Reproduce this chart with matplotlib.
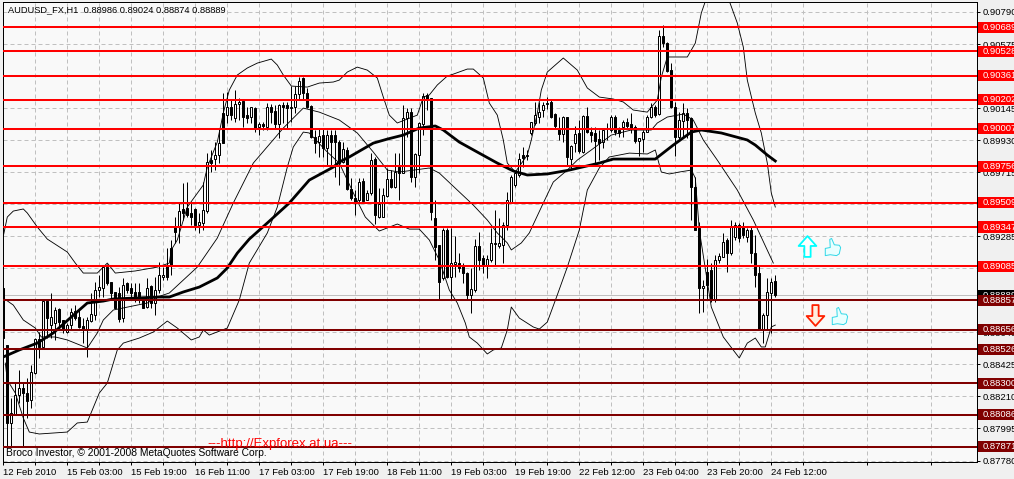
import numpy as np
import matplotlib
matplotlib.use("Agg")
import matplotlib.pyplot as plt
from matplotlib.patches import Rectangle
from matplotlib.path import Path

plt.rcParams["font.family"] = ["Liberation Sans", "DejaVu Sans"]

# hourly candles, prices in 1/100000
opens = [88938, 88555, 88032, 88092, 88220, 88267, 88233, 88186, 88367, 88595,
         88542, 88850, 88689, 88703, 88797, 88723, 88642, 88689, 88783, 88743,
         88683, 88656, 88716, 88756, 88924, 88938, 89078, 88978, 88911, 88904,
         88736, 88971, 88938, 88911, 88911, 88870, 88810, 88951, 88837, 88924,
         89011, 89092, 89206, 89347, 89347, 89468, 89474, 89441, 89468, 89360,
         89374, 89454, 89796, 89803, 89830, 90112, 90098, 90152, 90078, 90172,
         90192, 90098, 90085, 90145, 90018, 90038, 90018, 90152, 90125, 90038,
         90166, 90166, 90145, 90152, 90239, 90347, 90246, 90159, 89951, 89917,
         89964, 89877, 89964, 89964, 89917, 89783, 89864, 89602, 89541, 89528,
         89655, 89528, 89575, 89803, 89414, 89414, 89555, 89669, 89615, 89749,
         89709, 90078, 90118, 89682, 89830, 90038, 90233, 90212, 89407, 89226,
         89005, 89327, 89011, 89099, 89105, 89085, 89038, 88891, 88924, 89219,
         89139, 89092, 89125, 89233, 89219, 89226, 89360, 89515, 89629, 89696,
         89830, 89823, 89978, 90045, 90085, 90132, 90172, 90186, 90105, 90004,
         89971, 90085, 89803, 89910, 89978, 89850, 90092, 89984, 89978, 89937,
         89917, 90004, 89998, 90085, 89998, 90018, 90051, 90038, 90018, 89924,
         89937, 89984, 90085, 90152, 90105, 90628, 90581, 90400, 90152, 89951,
         90058, 90112, 90078, 89615, 89340, 88938, 89045, 89058, 88857, 89125,
         89145, 89260, 89172, 89280, 89360, 89347, 89280, 89327, 89172, 89038,
         88662, 88756, 88904, 88986]
highs = [89078, 88555, 88199, 88300, 88387, 88300, 88334, 88421, 88602, 88642,
         88850, 88857, 88904, 88810, 88803, 88723, 88703, 88803, 88823, 88790,
         88736, 88743, 88904, 88978, 89025, 89092, 89099, 88978, 88911, 88944,
         89005, 88978, 88971, 88971, 88971, 88877, 89005, 88958, 89011, 89112,
         89078, 89206, 89260, 89414, 89515, 89642, 89649, 89508, 89474, 89441,
         89649, 89843, 89864, 89917, 90011, 90246, 90253, 90199, 90266, 90212,
         90199, 90152, 90152, 90152, 90051, 90051, 90179, 90172, 90166, 90172,
         90186, 90186, 90293, 90293, 90353, 90353, 90280, 90166, 89998, 90011,
         90011, 89998, 89998, 89998, 89931, 89917, 89884, 89676, 89595, 89676,
         89676, 89595, 89843, 89817, 89609, 89609, 89743, 89729, 89843, 89843,
         90166, 90145, 90145, 89843, 90051, 90246, 90246, 90212, 89528, 89226,
         89340, 89340, 89340, 89286, 89172, 89105, 89045, 89072, 89266, 89313,
         89159, 89159, 89340, 89461, 89407, 89380, 89582, 89696, 89716, 89843,
         89884, 89864, 90051, 90186, 90186, 90186, 90219, 90199, 90112, 90085,
         90092, 90085, 89897, 90025, 90065, 90098, 90152, 90018, 90018, 89998,
         90011, 90045, 90098, 90098, 90018, 90065, 90078, 90112, 90031, 89944,
         89998, 90098, 90179, 90166, 90669, 90702, 90588, 90447, 90186, 90118,
         90179, 90145, 90085, 89682, 89380, 88991, 89132, 89105, 89159, 89172,
         89307, 89273, 89394, 89380, 89374, 89380, 89340, 89347, 89293, 89092,
         88770, 89005, 89005, 89024]
lows = [88589, 87871, 87871, 88092, 88166, 87871, 88065, 88132, 88360, 88468,
        88542, 88602, 88602, 88589, 88656, 88636, 88636, 88656, 88723, 88669,
        88568, 88475, 88709, 88723, 88877, 88877, 88958, 88870, 88803, 88709,
        88709, 88904, 88870, 88844, 88837, 88803, 88803, 88803, 88756, 88904,
        88991, 88991, 89025, 89240, 89240, 89394, 89414, 89360, 89327, 89307,
        89327, 89441, 89716, 89729, 89776, 89910, 90045, 90065, 90051, 90065,
        90018, 90045, 90045, 89984, 89964, 89998, 89998, 90045, 90011, 89944,
        90045, 90011, 90051, 90112, 90199, 90199, 90145, 89944, 89843, 89817,
        89817, 89763, 89749, 89682, 89629, 89776, 89595, 89528, 89427, 89515,
        89515, 89528, 89562, 89367, 89407, 89414, 89548, 89609, 89609, 89528,
        89709, 89951, 89649, 89615, 89709, 89964, 90132, 89394, 89125, 88864,
        88991, 89005, 88864, 89011, 89045, 88971, 88864, 88770, 88911, 89058,
        89038, 89005, 89112, 89092, 89206, 89105, 89327, 89508, 89615, 89682,
        89749, 89796, 89964, 90031, 90045, 90085, 90139, 90078, 90011, 89931,
        89917, 89763, 89729, 89850, 89843, 89843, 89978, 89917, 89776, 89796,
        89877, 89931, 89984, 89964, 89951, 89951, 90011, 89978, 89910, 89823,
        89850, 89984, 90078, 90085, 90098, 90555, 90387, 90145, 89823, 89931,
        89944, 89944, 89394, 89327, 88770, 88776, 88857, 88844, 88844, 89105,
        89145, 89045, 89159, 89260, 89246, 89273, 89246, 89105, 88944, 88656,
        88568, 88656, 88636, 88874]
closes = [88602, 88032, 88099, 88220, 88267, 88233, 88179, 88374, 88595, 88542,
          88850, 88736, 88743, 88790, 88709, 88662, 88689, 88776, 88736, 88676,
          88656, 88723, 88763, 88924, 88944, 89078, 88971, 88904, 88803, 88729,
          88958, 88924, 88904, 88877, 88857, 88803, 88938, 88837, 88924, 89025,
          89025, 89011, 89092, 89313, 89454, 89441, 89427, 89414, 89360, 89380,
          89461, 89783, 89776, 89830, 89910, 89910, 90152, 90098, 90172, 90186,
          90085, 90078, 90152, 90011, 90038, 90025, 90152, 90118, 90038, 90166,
          90152, 90145, 90152, 90239, 90327, 90246, 90152, 89951, 89910, 89957,
          89877, 89964, 89917, 89917, 89776, 89870, 89602, 89541, 89515, 89649,
          89521, 89575, 89796, 89427, 89501, 89562, 89669, 89615, 89716, 89709,
          90078, 90118, 89682, 89837, 90045, 90226, 90206, 89447, 89213, 88978,
          89327, 89011, 89105, 89112, 89072, 89038, 88891, 88931, 89219, 89125,
          89092, 89132, 89240, 89240, 89240, 89360, 89528, 89682, 89709, 89803,
          89810, 89830, 90051, 90098, 90118, 90166, 90179, 90085, 90025, 89971,
          90085, 89817, 89890, 89971, 89857, 90092, 89984, 89964, 89924, 89910,
          89998, 90011, 90085, 89984, 89978, 90051, 90025, 90011, 89924, 89944,
          89984, 90085, 90152, 90098, 90628, 90581, 90394, 90152, 89951, 90065,
          90112, 90065, 89615, 89327, 88938, 88951, 88958, 88857, 89125, 89152,
          89246, 89172, 89347, 89360, 89273, 89293, 89327, 89172, 89025, 88656,
          88756, 88911, 88978, 88889]

# indicator lines: bar number, price in 1/100000
upper_bars = [0, 1, 2.5, 5, 6, 8.5, 11, 16, 18, 20, 23.5, 26, 28, 33, 38.5, 41.5, 42, 43.5, 46, 50,
              51, 53.5, 55, 56.5, 58.5, 61, 63.5, 67, 68.5, 70, 72, 76, 79, 82.5, 84, 86, 88.5, 91, 93.5, 95,
              96.5, 98.5, 103.5, 105, 106.5, 108.5, 111, 112.5, 116, 117.5, 120, 121.5, 123.5, 125, 126, 128,
              131, 132, 133.5, 134.5, 136, 140, 143.5, 146, 149, 152.5, 155, 157.5, 161, 163.5, 164.5, 166,
              171, 173, 174.5, 176, 181, 183.5, 185, 186, 188, 189.5, 191, 192, 193]
upper_vals = [89286, 89414, 89454, 89468, 89441, 89347, 89266, 89179, 89105, 89038, 89038, 89105, 89038, 89052,
              89078, 89105, 89193, 89260, 89481, 89629,
              89749, 89917, 90112, 90266, 90367, 90414, 90447, 90474, 90434, 90367, 90293, 90286, 90313, 90320,
              90333, 90387, 90420, 90400, 90347, 90219,
              90098, 90045, 90098, 90219, 90233, 90300, 90360, 90373, 90407, 90407, 90347, 90179, 90098, 89931,
              89776, 89716,
              89830, 89931, 90112, 90266, 90387, 90481, 90400, 90280, 90219, 90206, 90186, 90132, 90118, 90199,
              90353, 90488,
              90488, 90581, 90783, 90900, 90900, 90716, 90555, 90333, 90112, 89978, 89776, 89575, 89481]
middle_bars = [0, 2.5, 5, 8, 9.5, 13, 16, 21, 23.5, 25, 27.5, 36, 38.5, 41.5, 48.5, 53.5, 57.5, 62.5, 70, 75,
               79, 84, 88.5, 92.5, 96, 99, 106.5, 109, 113.5, 117.5, 121, 123.5, 126, 127, 129.5, 131.5, 135,
               137.5, 141, 143.5, 147, 152, 157, 162, 163.5, 166, 170, 172.5, 175, 178.5, 183.5, 187.5, 192.5]
middle_vals = [88870, 88823, 88723, 88669, 88609, 88609, 88589, 88535, 88636, 88723, 88790, 88837, 88877, 88904,
               89078, 89273, 89508, 89776, 90011, 90145,
               90118, 90065, 89978, 89850, 89729, 89716, 89743, 89709, 89595, 89494, 89394, 89307, 89240, 89193,
               89240, 89307, 89508,
               89649, 89729, 89796, 89864, 89964, 89998, 89998, 90045, 90085, 90105, 90065, 89931, 89796, 89595,
               89394, 89105]
lower_bars = [0.5, 1, 3, 5, 6.5, 9, 16, 18.5, 21, 24, 26, 28.5, 30, 34, 37.5, 41, 43.5, 47, 49, 50, 51.5, 56, 59,
              61.5, 66, 68.5, 71, 72.5, 75, 76.5, 81, 84, 88, 90.5, 94, 98.5, 101.5, 104, 106.5, 109, 111.5,
              113.5, 115.5, 116.5, 118.5, 121, 122.5, 124.5, 126, 127, 129, 132.5, 134, 136, 138.5, 141, 144,
              146, 149, 151.5, 156.5, 161, 163, 164.5, 166.5, 169, 172, 173, 174, 177, 180, 184, 186, 188,
              189.5, 190.5, 192, 193]
lower_vals = [88434, 88320, 88233, 88065, 87971, 87958, 87971, 88032, 88038, 88233, 88300, 88522, 88568, 88602,
              88642, 88716, 88669, 88589, 88609, 88656, 88622, 88669, 88857,
              89105, 89307, 89481, 89749, 89884, 89984, 89978, 89850, 89776, 89548, 89414, 89320, 89367, 89333,
              89333, 89260, 89125, 88924,
              88837, 88703, 88609, 88568, 88495, 88522, 88535, 88656, 88810, 88736, 88676, 88662, 88709, 88891,
              89078, 89327,
              89595, 89743, 89817, 89843, 89837, 89864, 89716, 89703, 89716, 89729, 89676, 89327, 88810, 88609,
              88468, 88568, 88602,
              88542, 88542, 88676, 88689]
ma_bars = [0, 4, 8.5, 12.5, 17, 21, 25, 27.5, 39, 41.5, 45, 49, 53.5, 56, 58.5, 61.5, 66, 71.5, 76.5, 82.5, 84,
           86.5, 92.5, 96, 100, 104, 108, 110, 114, 118.5, 123.5, 127.5, 131, 136, 141.5, 149, 152.5, 163, 167.5,
           172, 174.5, 179.5, 186, 188, 191, 193]
ma_vals = [88475, 88522, 88568, 88636, 88743, 88837, 88850, 88864, 88877, 88877, 88911, 88944, 89005, 89072, 89172,
           89266, 89374, 89508, 89662, 89749, 89783,
           89817, 89910, 89937, 89964, 90011, 90025, 89998, 89917, 89850, 89776, 89723, 89696, 89703, 89729, 89776,
           89803, 89803, 89897,
           89984, 89998, 89978, 89931, 89897, 89830, 89790]

res_levels = [0.90689, 0.90528, 0.90361, 0.90202, 0.90007, 0.89756, 0.89509, 0.89347, 0.89085]
sup_levels = [0.88857, 0.88656, 0.88526, 0.88300, 0.88086, 0.87871]
last_price = 0.88889
price_ticks = [0.90790, 0.90575, 0.90360, 0.90145, 0.89930, 0.89715, 0.89500, 0.89285,
               0.89070, 0.88855, 0.88640, 0.88425, 0.88210, 0.87995, 0.87780]
time_labels = ["12 Feb 2010", "15 Feb 03:00", "15 Feb 19:00", "16 Feb 11:00", "17 Feb 03:00",
               "17 Feb 19:00", "18 Feb 11:00", "19 Feb 03:00", "19 Feb 19:00", "22 Feb 12:00",
               "23 Feb 04:00", "23 Feb 20:00", "24 Feb 12:00"]

opens, highs, lows, closes = [np.array(a) / 1e5 for a in (opens, highs, lows, closes)]
bars = np.arange(len(opens))

W, H = 1014, 479
fig = plt.figure(figsize=(W / 100, H / 100), dpi=100, facecolor="#f0f0f0")
ax = fig.add_axes([2.7 / W, 1 - 462 / H, 974 / W, 459.7 / H], facecolor="#f9f9f9")
ax.set_xlim(-0.15, 243.35)
ax.set_ylim(0.87770, 0.90855)

# grid every 8 bars, labels every 16
ax.set_xticks(np.arange(8, 244, 16), minor=True)
ax.set_xticks(np.arange(0, 16 * len(time_labels), 16), labels=time_labels, ha="left")
ax.set_yticks(price_ticks, labels=[f"{p:.5f}" for p in price_ticks])
ax.yaxis.tick_right()
ax.tick_params(axis="both", which="both", length=2.2, width=0.72, labelsize=6.8, pad=2.2)
ax.grid(True, which="both", color="#c0c0c0", lw=0.72, ls=(0, (4, 3)))
ax.set_axisbelow(True)
for s in ax.spines.values():
    s.set_linewidth(0.72)

# candles
up = closes >= opens
body_low = np.minimum(opens, closes)
body_h = np.maximum(np.abs(closes - opens), 0.00002)
ax.vlines(bars, lows, highs, color="black", lw=0.72, zorder=3)
ax.bar(bars, body_h, 0.5, bottom=body_low, color=np.where(up, "white", "black"),
       edgecolor="black", linewidth=0.72, zorder=3)

# bands and moving average
thin = dict(color="black", lw=0.62, zorder=4)
ax.plot(upper_bars, np.array(upper_vals) / 1e5, **thin)
ax.plot(middle_bars, np.array(middle_vals) / 1e5, **thin)
ax.plot(lower_bars, np.array(lower_vals) / 1e5, **thin)
ax.plot(ma_bars, np.array(ma_vals) / 1e5, color="black", lw=2.0, zorder=4)

ax.axhline(last_price, color="#c0c0c0", lw=0.72, zorder=2.5)
for lv in res_levels:
    ax.axhline(lv, color="#ff0000", lw=1.45, zorder=5)
for lv in sup_levels:
    ax.axhline(lv, color="#800000", lw=1.45, zorder=5)


def price_box(price, bg, z):
    # coloured flag on the price scale, it runs off the right edge like the terminal does
    ax.add_patch(Rectangle((1.0013, price - 0.00037), 0.05, 0.00074, fc=bg, ec="none", zorder=z,
                           transform=ax.get_yaxis_transform(), clip_on=False))
    ax.annotate(f"{price:.5f}", xy=(1, price), xycoords=("axes fraction", "data"),
                xytext=(4, 0), textcoords="offset points", va="center", ha="left",
                fontsize=6.8, color="white", annotation_clip=False, zorder=z + 0.1)


price_box(last_price, "black", 5.5)
for lv in res_levels:
    price_box(lv, "#ff0000", 6)
for lv in sup_levels:
    price_box(lv, "#800000", 6)

# arrows and thumbs placed on the chart
arrow_up = Path([(-0.3, -1), (0.3, -1), (0.3, 0.05), (0.85, 0.05), (0, 1), (-0.85, 0.05), (-0.3, 0.05), (-0.3, -1)],
                closed=True)
arrow_down = Path([(-0.3, 1), (0.3, 1), (0.3, -0.05), (0.85, -0.05), (0, -1), (-0.85, -0.05), (-0.3, -0.05),
                   (-0.3, 1)], closed=True)
thumb = Path([(-0.8, -0.1), (-0.25, 0.0), (-0.3, 0.9), (-0.1, 1.0), (0.2, 0.3), (0.75, 0.25), (0.9, 0.0),
              (0.75, -0.7), (0.45, -0.9), (-0.25, -0.8), (-0.8, -0.9), (-0.8, -0.1)], closed=True)
ax.plot(201, 0.89219, marker=arrow_up, ms=15, mfc="white", mec="#00ffff", mew=1.3, zorder=6)
ax.plot(202.9, 0.88756, marker=arrow_down, ms=15, mfc="#fff0e0", mec="#ff2000", mew=1.3, zorder=6)
ax.plot(207.2, 0.89213, marker=thumb, ms=13, mfc="#e8ffff", mec="#30d8e8", mew=0.7, zorder=6)
ax.plot(209, 0.88750, marker=thumb, ms=13, mfc="#e8ffff", mec="#30d8e8", mew=0.7, zorder=6)

# chart captions
fig.text(8 / W, 1 - 10 / H, "AUDUSD_FX,H1  0.88986 0.89024 0.88874 0.88889", fontsize=6.7,
         va="center", ha="left", zorder=7)
fig.text(6 / W, 1 - 453.5 / H, "Broco Investor, © 2001-2008 MetaQuotes Software Corp.", fontsize=7.35,
         va="center", ha="left", zorder=7)
fig.text(207 / W, 1 - 444 / H, "---http://Expforex.at.ua---", fontsize=9.5, color="#ff0000",
         va="center", ha="left", zorder=4)

fig.savefig("out.png", dpi=100, facecolor=fig.get_facecolor())
